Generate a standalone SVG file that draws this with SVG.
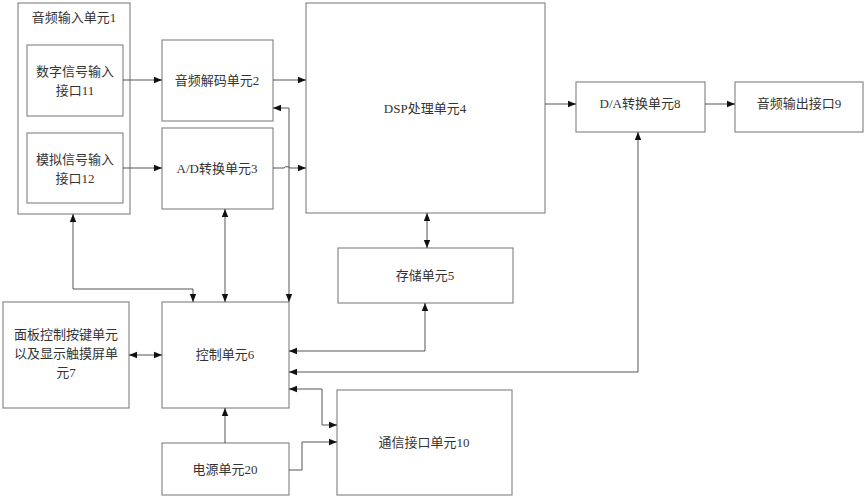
<svg xmlns="http://www.w3.org/2000/svg" width="865" height="500" viewBox="0 0 865 500">
<style>
rect{fill:#fff;stroke:#8a8a8a;stroke-width:1.2}
text{font-family:"Liberation Serif","Noto Sans CJK SC",serif;font-size:13px;fill:#333;text-anchor:middle}
.c path{fill:none;stroke:#555;stroke-width:1}
</style>
<defs>
<marker id="a" viewBox="0 0 10 10" refX="10" refY="5" markerWidth="8" markerHeight="8" orient="auto-start-reverse" markerUnits="userSpaceOnUse"><path d="M0,1L10,5L0,9z" fill="#111"/></marker>
</defs>
<rect x="0" y="0" width="865" height="500" style="stroke:none"/>
<g id="n1"><rect x="18" y="3" width="112" height="211"/><text x="74" y="22">音频输入单元1</text></g>
<g id="n11"><rect x="27" y="45" width="96" height="71"/><text x="75" y="76">数字信号输入</text><text x="75" y="95">接口11</text></g>
<g id="n12"><rect x="27" y="133" width="96" height="70"/><text x="75" y="164">模拟信号输入</text><text x="75" y="183">接口12</text></g>
<g id="n2"><rect x="162" y="40" width="111" height="81"/><text x="217" y="85">音频解码单元2</text></g>
<g id="n3"><rect x="162" y="128" width="111" height="81"/><text x="217" y="173">A/D转换单元3</text></g>
<g id="n4"><rect x="306" y="3" width="239" height="210"/><text x="425" y="113">DSP处理单元4</text></g>
<g id="n5"><rect x="338" y="248" width="175" height="55"/><text x="425" y="280">存储单元5</text></g>
<g id="n6"><rect x="162" y="302" width="127" height="106"/><text x="225" y="359">控制单元6</text></g>
<g id="n7"><rect x="3" y="302" width="126" height="106"/><text x="66" y="339">面板控制按键单元</text><text x="66" y="358">以及显示触摸屏单</text><text x="66" y="377">元7</text></g>
<g id="n20"><rect x="162" y="443" width="127" height="52"/><text x="225" y="474">电源单元20</text></g>
<g id="n10"><rect x="337" y="390" width="175" height="105"/><text x="424" y="447">通信接口单元10</text></g>
<g id="n8"><rect x="576" y="82" width="129" height="50"/><text x="640" y="108">D/A转换单元8</text></g>
<g id="n9"><rect x="735" y="82" width="128" height="50"/><text x="799" y="108">音频输出接口9</text></g>
<g class="c">
<path d="M123,80H162" marker-end="url(#a)"/>
<path d="M123,168H162" marker-end="url(#a)"/>
<path d="M273,80H306" marker-end="url(#a)"/>
<path d="M273,168H284a4,4 0 0 1 6,0H306" marker-end="url(#a)"/>
<path d="M273,108H289V302" marker-start="url(#a)" marker-end="url(#a)"/>
<path d="M225,209V302" marker-start="url(#a)" marker-end="url(#a)"/>
<path d="M73,214V289H193V302" marker-start="url(#a)" marker-end="url(#a)"/>
<path d="M427,213V248" marker-start="url(#a)" marker-end="url(#a)"/>
<path d="M425,303V351H289" marker-start="url(#a)" marker-end="url(#a)"/>
<path d="M129,355H162" marker-start="url(#a)" marker-end="url(#a)"/>
<path d="M638,132V372H289" marker-start="url(#a)" marker-end="url(#a)"/>
<path d="M545,104H576" marker-end="url(#a)"/>
<path d="M705,104H735" marker-end="url(#a)"/>
<path d="M289,389H322V425H337" marker-start="url(#a)" marker-end="url(#a)"/>
<path d="M225,443V408" marker-end="url(#a)"/>
<path d="M289,470H302V442H337" marker-end="url(#a)"/>
</g>
</svg>
